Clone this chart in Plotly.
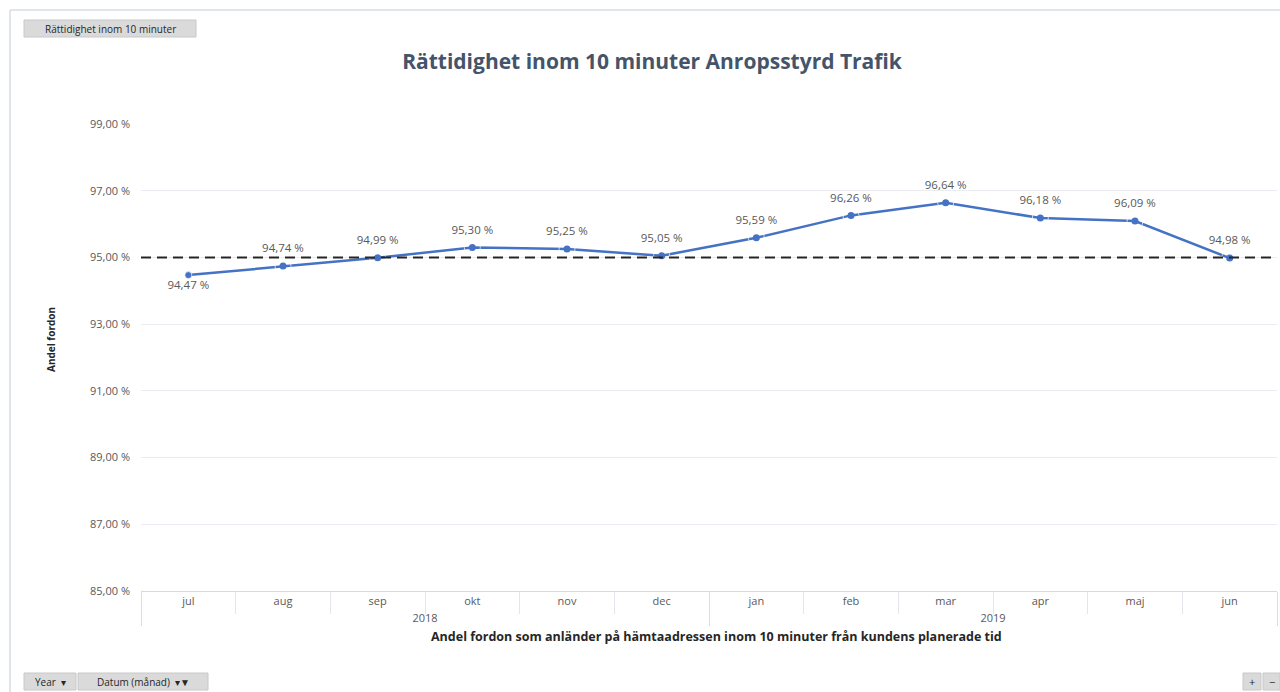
import plotly.graph_objects as go

years = ["2018"] * 6 + ["2019"] * 6
months = ["jul", "aug", "sep", "okt", "nov", "dec", "jan", "feb", "mar", "apr", "maj", "jun"]
values = [94.47, 94.74, 94.99, 95.30, 95.25, 95.05, 95.59, 96.26, 96.64, 96.18, 96.09, 94.98]
label_pos = ["bottom center"] + ["top center"] * 11
target = 95.0
ytick_vals = [85, 87, 89, 91, 93, 95, 97, 99]
ytick_text = [f"{v:.2f}".replace(".", ",") + " %" for v in ytick_vals]

W, H = 1280, 692
L, R, T, B = 141, 3, 124, 101
pw, ph = W - L - R, H - T - B
FONT = "Open Sans"

def px(x):
    return (x - L) / pw

def py(y):
    return (H - B - y) / ph

fig = go.Figure()
fig.add_trace(go.Scatter(
    x=[years, months], y=values, mode="lines+markers",
    line=dict(color="#4472C4", width=2.5),
    marker=dict(color="#4472C4", size=7),
    showlegend=False, hoverinfo="skip", cliponaxis=False,
))
# data labels (invisible larger markers give the labels their offset)
fig.add_trace(go.Scatter(
    x=[years, months], y=values, mode="markers+text",
    marker=dict(color="rgba(0,0,0,0)", size=[7] + [16] * 11),
    texttemplate="%{y:.2f} %",
    textposition=label_pos,
    textfont=dict(family=FONT, size=11.5, color="#595959"),
    cliponaxis=False, showlegend=False, hoverinfo="skip",
))

fig.add_shape(type="line", xref="paper", yref="y", x0=0, x1=1, y0=target, y1=target,
              line=dict(color="#262626", width=2, dash="10px,6px"), layer="above")

# frame lines
fig.add_shape(type="line", xref="paper", yref="paper", x0=px(10), x1=px(1280), y0=py(10), y1=py(10),
              line=dict(color="#D6DCE5", width=1.5))
fig.add_shape(type="line", xref="paper", yref="paper", x0=px(10), x1=px(10), y0=py(10), y1=py(692),
              line=dict(color="#D6DCE5", width=1.5))

def button(text, x0, x1, y0, y1, size=10):
    fig.add_shape(type="rect", xref="paper", yref="paper", x0=px(x0), x1=px(x1), y0=py(y0), y1=py(y1),
                  line=dict(color="#C8C8C8", width=1), fillcolor="#DADADA")
    fig.add_annotation(xref="paper", yref="paper", x=px((x0 + x1) / 2), y=py((y0 + y1) / 2),
                       text=text, showarrow=False, font=dict(family=FONT, size=size, color="#262626"),
                       xanchor="center", yanchor="middle")

button("Rättidighet inom 10 minuter", 24, 196, 20, 37, 10)
button("Year  ▾", 24, 76, 673, 690, 10)
button("Datum (månad)  ▾▼", 78, 208, 673, 690, 10)
button("+", 1243, 1261, 673, 690, 11)
button("−", 1263, 1280, 673, 690, 11)

fig.add_annotation(xref="paper", yref="paper", x=px(42), y=py(340), text="<b>Andel fordon</b>",
                   textangle=-90, showarrow=False, font=dict(family=FONT, size=10, color="#262626"))
fig.add_annotation(xref="paper", yref="paper", x=px(716), y=py(647),
                   text="<b>Andel fordon som anländer på hämtaadressen inom 10 minuter från kundens planerade tid</b>",
                   showarrow=False, font=dict(family=FONT, size=12.5, color="#262626"))

fig.update_layout(
    width=W, height=H,
    margin=dict(l=L, r=R, t=T, b=B),
    paper_bgcolor="white", plot_bgcolor="white",
    separators=", ",
    title=dict(text="<b>Rättidighet inom 10 minuter Anropsstyrd Trafik</b>",
               x=652 / W, xanchor="center", y=1 - 62 / H, yanchor="middle",
               xref="container", yref="container",
               font=dict(family=FONT, size=21, color="#44546A")),
    xaxis=dict(
        type="multicategory", range=[-0.5, 11.5], showgrid=False, showline=True, linecolor="#D9D9D9", linewidth=1,
        showdividers=True, dividercolor="#D9DDE5", dividerwidth=1,
        ticks="outside", tickson="boundaries", ticklen=22, tickcolor="#E3E6EC",
        tickfont=dict(family=FONT, size=11, color="#595959"),
    ),
    yaxis=dict(
        range=[85, 99], tickmode="array", tickvals=ytick_vals, ticktext=ytick_text,
        showgrid=True, gridcolor="#E9ECF1", gridwidth=1, zeroline=False, showline=False,
        tickfont=dict(family=FONT, size=11, color="#595959"), ticklabelstandoff=10,
    ),
)

fig.write_html("out.html", config={"displayModeBar": False},
               post_script="document.body.style.margin='0';document.body.style.overflow='hidden';")
